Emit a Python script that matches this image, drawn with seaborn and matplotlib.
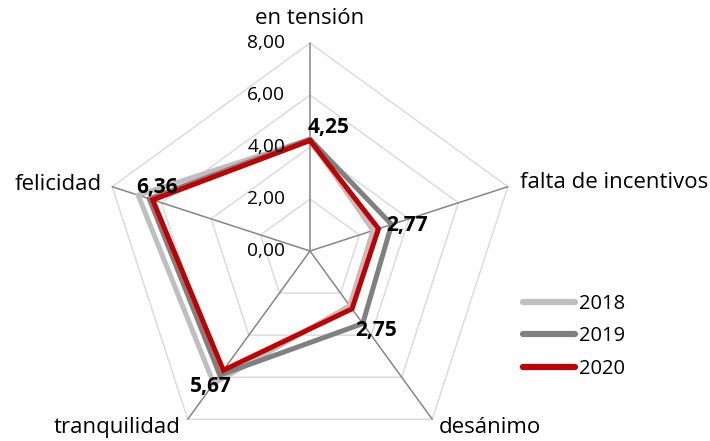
import matplotlib
matplotlib.use('Agg')
import matplotlib.pyplot as plt
import seaborn as sns
import pandas as pd
import numpy as np
from matplotlib.lines import Line2D

categories = ['en tensión', 'falta de incentivos', 'desánimo', 'tranquilidad', 'felicidad']
years = ['2018', '2019', '2020']
v2018 = [4.30, 2.55, 2.60, 6.30, 6.95]
v2019 = [4.30, 3.30, 3.45, 5.90, 6.50]
v2020 = [4.25, 2.77, 2.75, 5.67, 6.36]
ticks = [0, 2, 4, 6, 8]
colors = {'2018': '#bfbfbf', '2019': '#808080', '2020': '#c00000'}

sns.set_theme(style='white')
plt.rcParams['font.family'] = ['Open Sans', 'DejaVu Sans']

n = len(categories)
angles = np.arange(n) * 2 * np.pi / n

rows = []
for year, vals in zip(years, [v2018, v2019, v2020]):
    for i in list(range(n)) + [0]:
        rows.append({'year': year, 'theta': angles[i], 'value': vals[i]})
df = pd.DataFrame(rows)

fig = plt.figure(figsize=(7.1, 4.41), dpi=100)
ax = fig.add_axes([102 / 710, (441 - 251 - 208) / 441, 416 / 710, 416 / 441], projection='polar')
ax.set_theta_offset(np.pi / 2)
ax.set_theta_direction(-1)
ax.set_ylim(0, 8)
ax.grid(False)
ax.spines['polar'].set_visible(False)
ax.set_xticks([])
ax.set_yticks([])
ax.patch.set_alpha(0)

# pentagon grid
closed = np.append(angles, angles[0])
for t in ticks[1:]:
    ax.plot(closed, [t] * (n + 1), color='#d9d9d9', lw=1, clip_on=False, zorder=1)
for a in angles:
    ax.plot([a, a], [0, 8], color='#868686', lw=1.1, clip_on=False, zorder=1)

sns.lineplot(data=df, x='theta', y='value', hue='year', palette=colors, sort=False,
             estimator=None, units='year', lw=3.6, legend=False, ax=ax, zorder=3)
for line in ax.lines[-3:]:
    line.set_solid_joinstyle('miter')
ax.set_xlabel('')
ax.set_ylabel('')

# radial tick labels
for t in ticks:
    ax.annotate(f'{t:.2f}'.replace('.', ','), xy=(0, t), xytext=(-25, 0), textcoords='offset pixels',
                ha='right', va='center', fontsize=13.8, color='#000000', annotation_clip=False)

# category labels
offsets = [((0, 24), 'center'), ((12, 4), 'left'), ((6, -8), 'left'), ((-7, -8), 'right'), ((-10, 2), 'right')]
for a, cat, (off, ha) in zip(angles, categories, offsets):
    ax.annotate(cat, xy=(a, 8), xytext=off, textcoords='offset pixels', ha=ha, va='center',
                fontsize=16, color='#000000', annotation_clip=False)

# data labels for 2020
lab_off = [(19, 13), (28, 3), (24, -22), (-13, -16), (4, 12)]
for a, v, off in zip(angles, v2020, lab_off):
    ax.annotate(f'{v:.2f}'.replace('.', ','), xy=(a, v), xytext=off, textcoords='offset pixels',
                ha='center', va='center', fontsize=15, fontweight='bold', color='#000000',
                annotation_clip=False, zorder=5)

handles = [Line2D([], [], color=colors[y], lw=4.5, solid_capstyle='round') for y in years]
fig.legend(handles, years, loc='upper left', bbox_to_anchor=(523 / 710, 1 - 294 / 441),
           frameon=False, fontsize=14.5, handlelength=2.6, handletextpad=0.2,
           labelspacing=0.62, borderpad=0, borderaxespad=0, labelcolor='#000000')

fig.savefig('out.png', dpi=100)
